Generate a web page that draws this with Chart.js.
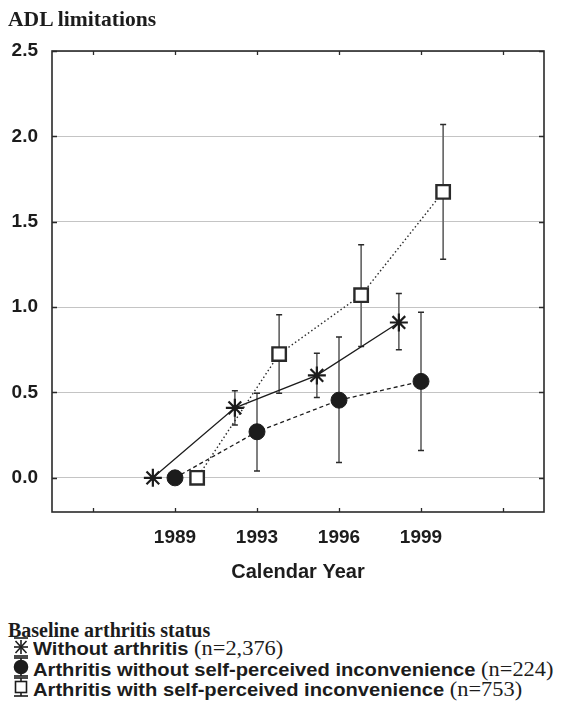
<!DOCTYPE html>
<html>
<head>
<meta charset="utf-8">
<script src="https://cdn.jsdelivr.net/npm/chart.js@4/dist/chart.umd.min.js"></script>
<style>
html,body{margin:0;padding:0;background:#fff;}
#wrap{position:relative;width:561px;height:706px;overflow:hidden;background:#fff;}
#c{position:absolute;left:0;top:0;}
.t{position:absolute;white-space:nowrap;transform-origin:left center;color:#1c1c1c;}
.serifb{font-family:'Liberation Serif','Times New Roman',serif;font-weight:bold;font-size:20px;line-height:20px;}
.row{font-family:'Liberation Sans',Arial,sans-serif;font-weight:bold;font-size:18px;line-height:20px;transform:scaleX(1.12);}
.row .n{font-family:'Liberation Serif','Times New Roman',serif;font-weight:normal;font-size:20px;}
.sym{position:absolute;}
</style>
</head>
<body>
<div id="wrap">
  <canvas id="c" width="561" height="600"></canvas>
  <div class="t serifb" style="left:8px;top:9px;transform:scaleX(1.08);">ADL limitations</div>
  <div class="t serifb" style="left:8px;top:620px;">Baseline arthritis status</div>

  <svg class="sym" style="left:13px;top:637px" width="16" height="20" viewBox="0 0 16 20">
    <g stroke="#1c1c1c" stroke-width="1.6" fill="none">
      <line x1="1" y1="1" x2="15" y2="1"/><line x1="1" y1="19" x2="15" y2="19"/>
      <line x1="8" y1="3" x2="8" y2="17"/><line x1="1" y1="10" x2="15" y2="10"/>
      <line x1="2.5" y1="4" x2="13.5" y2="16"/><line x1="13.5" y1="4" x2="2.5" y2="16"/>
    </g>
  </svg>
  <div class="t row" style="left:33px;top:638px;">Without arthritis <span class="n">(n=2,376)</span></div>

  <svg class="sym" style="left:13px;top:657px" width="16" height="20" viewBox="0 0 16 20">
    <g stroke="#1c1c1c" stroke-width="1.6">
      <line x1="1" y1="1" x2="15" y2="1"/><line x1="1" y1="19" x2="15" y2="19"/>
      <line x1="8" y1="1" x2="8" y2="19"/>
      <circle cx="8" cy="10" r="6.5" fill="#1c1c1c"/>
    </g>
  </svg>
  <div class="t row" style="left:33px;top:659px;">Arthritis without self-perceived inconvenience <span class="n">(n=224)</span></div>

  <svg class="sym" style="left:13px;top:677px" width="16" height="20" viewBox="0 0 16 20">
    <g stroke="#1c1c1c" stroke-width="1.6">
      <line x1="1" y1="1" x2="15" y2="1"/><line x1="1" y1="19" x2="15" y2="19"/>
      <line x1="8" y1="1" x2="8" y2="19"/>
      <rect x="2.5" y="4.5" width="11" height="11" fill="#fff"/>
    </g>
  </svg>
  <div class="t row" style="left:33px;top:679px;">Arthritis with self-perceived inconvenience <span class="n">(n=753)</span></div>
</div>

<script>
// ---- data ----
const categories = ['1989', '1993', '1996', '1999'];
const waveIndex = [1, 2, 3, 4];
const xTickLabels = ['', '1989', '1993', '1996', '1999', ''];
const yTicks = [0, 0.5, 1.0, 1.5, 2.0, 2.5];

const withoutArthritisMean  = [0, 0.41, 0.60, 0.91];
const withoutArthritisLower = [null, 0.31, 0.47, 0.75];
const withoutArthritisUpper = [null, 0.51, 0.73, 1.08];

const arthNoInconvMean  = [0, 0.27, 0.455, 0.565];
const arthNoInconvLower = [null, 0.04, 0.09, 0.16];
const arthNoInconvUpper = [null, 0.495, 0.825, 0.97];

const arthInconvMean  = [0, 0.725, 1.07, 1.675];
const arthInconvLower = [null, 0.495, 0.77, 1.28];
const arthInconvUpper = [null, 0.955, 1.365, 2.07];

// ---- build ----
const DODGE = 0.27;
function pts(mean, off) { return waveIndex.map((w, i) => ({x: w + off, y: mean[i]})); }

const series = [
  {label: 'Without arthritis', data: pts(withoutArthritisMean, -DODGE), lo: withoutArthritisLower, hi: withoutArthritisUpper,
   pointStyle: 'star', pointRadius: 9, borderColor: '#1c1c1c', backgroundColor: '#1c1c1c', borderWidth: 1.3, pointBorderWidth: 2.2, borderDash: []},
  {label: 'Arthritis without self-perceived inconvenience', data: pts(arthNoInconvMean, 0), lo: arthNoInconvLower, hi: arthNoInconvUpper,
   pointStyle: 'circle', pointRadius: 8, borderColor: '#1c1c1c', backgroundColor: '#1c1c1c', borderWidth: 1.3, pointBorderWidth: 1, borderDash: [4, 3]},
  {label: 'Arthritis with self-perceived inconvenience', data: pts(arthInconvMean, DODGE), lo: arthInconvLower, hi: arthInconvUpper,
   pointStyle: 'rect', pointRadius: 9.5, borderColor: '#2a2a2a', backgroundColor: '#ffffff', borderWidth: 1.4, pointBorderWidth: 2.4, borderDash: [1.5, 2.5]}
];

const errorBars = {
  id: 'errorBars',
  beforeDatasetsDraw(chart) {
    const {ctx, scales: {x, y}} = chart;
    ctx.save();
    series.forEach(s => {
      s.data.forEach((p, i) => {
        if (s.lo[i] == null) return;
        const px = x.getPixelForValue(p.x);
        const yl = y.getPixelForValue(s.lo[i]);
        const yh = y.getPixelForValue(s.hi[i]);
        ctx.strokeStyle = '#6a6a6a'; ctx.lineWidth = 1.7;
        ctx.beginPath(); ctx.moveTo(px, yl); ctx.lineTo(px, yh); ctx.stroke();
        ctx.strokeStyle = '#2a2a2a'; ctx.lineWidth = 1.5;
        ctx.beginPath();
        ctx.moveTo(px - 3, yl); ctx.lineTo(px + 3, yl);
        ctx.moveTo(px - 3, yh); ctx.lineTo(px + 3, yh);
        ctx.stroke();
      });
    });
    ctx.restore();
  }
};

const frame = {
  id: 'frame',
  afterDatasetsDraw(chart) {
    const {ctx, chartArea: a, scales: {x, y}} = chart;
    ctx.save();
    ctx.strokeStyle = '#2a2a2a'; ctx.lineWidth = 1.6;
    ctx.strokeRect(a.left, a.top, a.right - a.left, a.bottom - a.top);
    ctx.lineWidth = 1.3;
    ctx.beginPath();
    x.ticks.forEach(t => {
      const px = Math.round(x.getPixelForValue(t.value)) + 0.5;
      ctx.moveTo(px, a.top); ctx.lineTo(px, a.top + 4);
      ctx.moveTo(px, a.bottom); ctx.lineTo(px, a.bottom - 4);
    });
    y.ticks.forEach(t => {
      const py = Math.round(y.getPixelForValue(t.value)) + 0.5;
      ctx.moveTo(a.left, py); ctx.lineTo(a.left + 5, py);
      ctx.moveTo(a.right, py); ctx.lineTo(a.right - 5, py);
    });
    ctx.stroke();
    ctx.restore();
  }
};

new Chart(document.getElementById('c'), {
  type: 'scatter',
  data: {
    datasets: series.map((s, k) => ({
      label: s.label, data: s.data, showLine: true,
      borderColor: s.borderColor, backgroundColor: s.backgroundColor, borderWidth: s.borderWidth, borderDash: s.borderDash,
      pointStyle: s.pointStyle, pointRadius: s.pointRadius, pointHoverRadius: s.pointRadius,
      pointBorderWidth: s.pointBorderWidth, pointBorderColor: s.borderColor, pointBackgroundColor: s.backgroundColor,
      tension: 0, order: 3 - k
    }))
  },
  options: {
    responsive: false, animation: false, devicePixelRatio: 1,
    layout: {padding: {left: 0, top: 51, right: 17, bottom: 0}},
    plugins: {legend: {display: false}, tooltip: {enabled: false}},
    scales: {
      x: {
        type: 'linear', min: -0.5, max: 5.5,
        afterBuildTicks: ax => { ax.ticks = xTickLabels.map((_, i) => ({value: i})); },
        afterFit: ax => { ax.height = 88; },
        grid: {display: false, drawTicks: false},
        border: {display: false},
        ticks: {
          autoSkip: false, maxRotation: 0, padding: 14, color: '#1c1c1c',
          font: {family: "'Liberation Sans', Arial, sans-serif", size: 19, weight: 'bold'},
          callback: v => xTickLabels[v] ?? ''
        },
        title: {display: true, text: 'Calendar Year', color: '#1c1c1c',
          font: {family: "'Liberation Sans', Arial, sans-serif", size: 20, weight: 'bold'},
          padding: {top: 0, bottom: 16}}
      },
      y: {
        type: 'linear', min: -0.2, max: 2.5,
        afterBuildTicks: ax => { ax.ticks = yTicks.map(v => ({value: v})); },
        afterFit: ax => { ax.width = 52; },
        grid: {color: '#c4c4c4', lineWidth: 1, drawTicks: false},
        border: {display: false},
        ticks: {
          padding: 14, color: '#1c1c1c',
          font: {family: "'Liberation Sans', Arial, sans-serif", size: 19, weight: 'bold'},
          callback: v => v.toFixed(1)
        }
      }
    }
  },
  plugins: [errorBars, frame]
});
</script>
</body>
</html>
